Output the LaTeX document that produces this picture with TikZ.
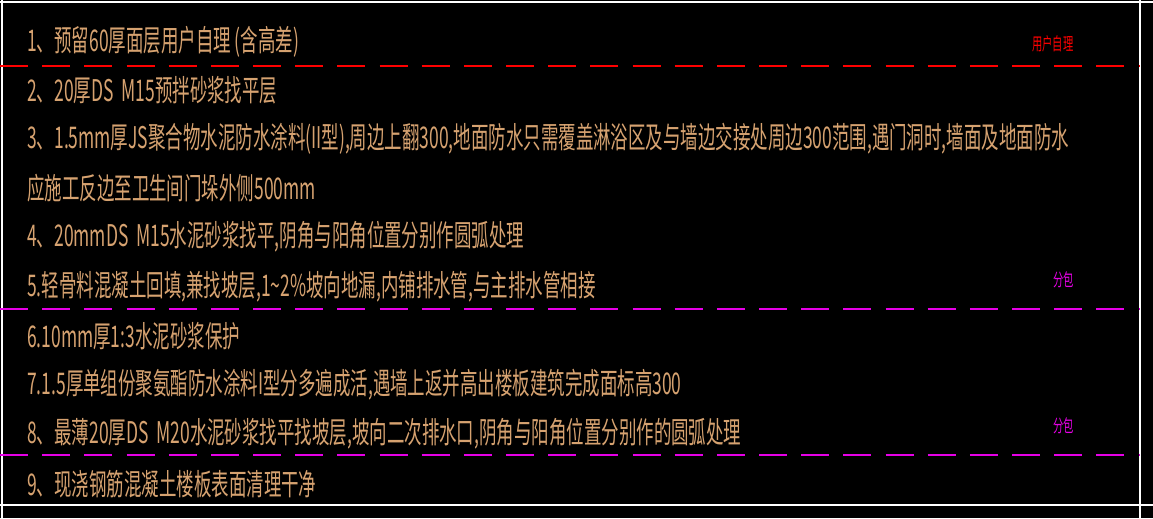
\documentclass[tikz,border=0pt]{standalone}
\usepackage{fontspec}
\setmainfont{Noto Sans CJK SC}
\usetikzlibrary{positioning}
\definecolor{cadtan}{RGB}{214, 162, 112}
\definecolor{cadred}{RGB}{255, 0, 0}
\definecolor{cadpink}{RGB}{230, 0, 230}
\tikzset{
  note/.style  = {anchor=west, text=cadtan, inner sep=0pt,
                  font=\fontsize{17}{17}\selectfont, xscale=0.585, transform shape},
  tag/.style   = {note, font=\fontsize{10}{10}\selectfont},
  split/.style = {dash pattern=on 16pt off 8pt, line width=0.6pt}
}
\begin{document}
\begin{tikzpicture}[x=0.02cm, y=-0.02cm]
  \fill[black] (0,0) rectangle (1153,518);
  \useasboundingbox (0,0) rectangle (1153,518);
  % frame
  \draw[white, line width=0.8pt] (0,2) -- (1153,2);
  \draw[white, line width=0.8pt] (0,505) -- (1153,505);
  \draw[white, line width=0.8pt] (2,0) -- (2,518);
  \draw[white, line width=0.8pt] (1140,0) -- (1140,518);
  % layer separators
  \draw[cadred, split] (0,66) -- (1140,66);
  \draw[cadpink, split] (0,309) -- (1140,309);
  \draw[cadpink, split] (0,455) -- (1140,455);
  % layers
  \node[note] (l1) at (27,42) {1、预留60厚面层用户自理 (含高差)};
  \node[note] (l2) at (27,90) {2、20厚DS\ \ M15预拌砂浆找平层};
  \node[note] (l3) at (27,139) {3、1.5mm厚JS聚合物水泥防水涂料(II型),周边上翻300,地面防水只需覆盖淋浴区及与墙边交接处周边300范围,遇门洞时,墙面及地面防水};
  \node[note] (l3b) at (27,188) {应施工反边至卫生间门垛外侧500mm};
  \node[note] (l4) at (27,237) {4、20mmDS\ \ M15水泥砂浆找平,阴角与阳角位置分别作圆弧处理};
  \node[note] (l5) at (27,287) {5.轻骨料混凝土回填,兼找坡层,1\textasciitilde2\%坡向地漏,内铺排水管,与主排水管相接};
  \node[note] (l6) at (27,336) {6.10mm厚1:3水泥砂浆保护};
  \node[note] (l7) at (27,385) {7.1.5厚单组份聚氨酯防水涂料I型分多遍成活,遇墙上返并高出楼板建筑完成面标高300};
  \node[note] (l8) at (27,434) {8、最薄20厚DS\ \ M20水泥砂浆找平找坡层,坡向二次排水口,阴角与阳角位置分别作的圆弧处理};
  \node[note] (l9) at (27,484) {9、现浇钢筋混凝土楼板表面清理干净};
  % remarks
  \node[tag, text=cadred] (own) at (1032,44) {用户自理};
  \node[tag, text=cadpink] (sub1) at (1053,280) {分包};
  \node[tag, text=cadpink] (sub2) at (1053,426) {分包};
\end{tikzpicture}
\end{document}
